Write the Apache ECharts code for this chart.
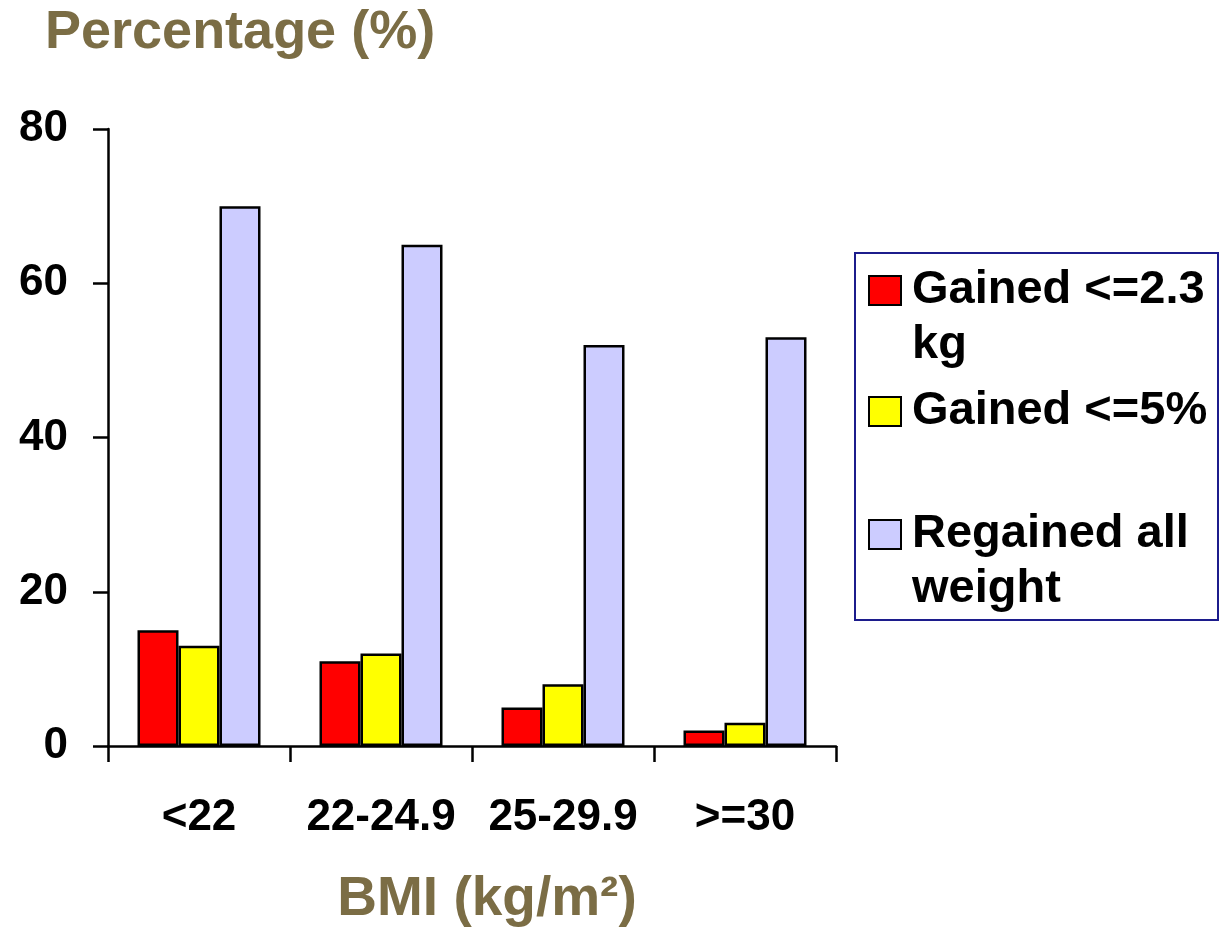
<!DOCTYPE html>
<html>
<head>
<meta charset="utf-8">
<title>BMI weight regain</title>
<script src="https://cdn.jsdelivr.net/npm/echarts@6/dist/echarts.min.js"></script>
<style>
html, body { margin: 0; padding: 0; background: #fff; }
#chart { width: 1220px; height: 927px; }
</style>
</head>
<body>
<div id="chart"></div>
<script>
// 数据
const categories = ['<22', '22-24.9', '25-29.9', '>=30']
const seriesNames = ['Gained <=2.3\nkg', 'Gained <=5%', 'Regained all\nweight']
const gainedKg = [15, 11, 5, 2]
const gainedPct = [13, 12, 8, 3]
const regainedAll = [70, 65, 52, 53]
const barColors = ['#ff0000', '#ffff00', '#ccccff']

const FONT = '"Liberation Sans", Arial, sans-serif'
const OLIVE = '#7b6d45'

const chart = echarts.init(document.getElementById('chart'))

function makeBar (name, data, color) {
  return {
    name: name,
    type: 'bar',
    data: data,
    barWidth: 41,
    barGap: '0%',
    itemStyle: {
      color: color,
      borderColor: '#000',
      borderWidth: 2.5
    }
  }
}

// 一个图例项一个 legend，方便控制位置
// 两行的名字前面加一个空行，这样第一行和色块对齐
function makeLegend (name, top, twoLines) {
  return {
    left: 868,
    top: top,
    orient: 'vertical',
    padding: 0,
    icon: 'rect',
    itemWidth: 32,
    itemHeight: 29,
    selectedMode: false,
    formatter: twoLines ? '\n{name}' : '{name}',
    textStyle: {
      fontFamily: FONT,
      fontWeight: 'bold',
      fontSize: 47,
      lineHeight: 55,
      color: '#000',
      padding: [0, 0, 0, 6]
    },
    data: [name]
  }
}

const option = {
  animation: false,
  title: {
    text: 'Percentage (%)',
    left: 45,
    top: 6,
    padding: 0,
    textStyle: {
      fontFamily: FONT,
      fontWeight: 'bold',
      fontSize: 54,
      color: OLIVE
    }
  },
  legend: [
    makeLegend(seriesNames[0], 208, true),
    makeLegend(seriesNames[1], 384, false),
    makeLegend(seriesNames[2], 452, true)
  ],
  graphic: [
    {
      type: 'rect',
      shape: { x: 855, y: 253, width: 363, height: 367 },
      style: { fill: 'none', stroke: '#1c1c8c', lineWidth: 2 }
    }
  ],
  grid: {
    left: 108,
    right: 384,
    top: 129,
    bottom: 181,
    outerBoundsMode: 'none',
    containLabel: false
  },
  xAxis: {
    type: 'category',
    data: categories,
    name: 'BMI (kg/m²)',
    nameLocation: 'middle',
    nameGap: 126,
    nameTextStyle: {
      fontFamily: FONT,
      fontWeight: 'bold',
      fontSize: 55,
      color: OLIVE,
      padding: [0, 0, 0, 30]
    },
    axisLine: { lineStyle: { color: '#000', width: 2.5 } },
    axisTick: { show: true, alignWithLabel: false, length: 16, lineStyle: { color: '#000', width: 2.5 } },
    axisLabel: {
      interval: 0,
      margin: 50,
      fontFamily: FONT,
      fontWeight: 'bold',
      fontSize: 44,
      color: '#000'
    }
  },
  yAxis: {
    type: 'value',
    min: 0,
    max: 80,
    interval: 20,
    splitLine: { show: false },
    axisLine: { show: true, lineStyle: { color: '#000', width: 2.5 } },
    axisTick: { show: true, length: 15, lineStyle: { color: '#000', width: 2.5 } },
    axisLabel: {
      margin: 40,
      fontFamily: FONT,
      fontWeight: 'bold',
      fontSize: 44,
      color: '#000'
    }
  },
  series: [
    makeBar(seriesNames[0], gainedKg, barColors[0]),
    makeBar(seriesNames[1], gainedPct, barColors[1]),
    makeBar(seriesNames[2], regainedAll, barColors[2])
  ]
}

chart.setOption(option)
</script>
</body>
</html>
